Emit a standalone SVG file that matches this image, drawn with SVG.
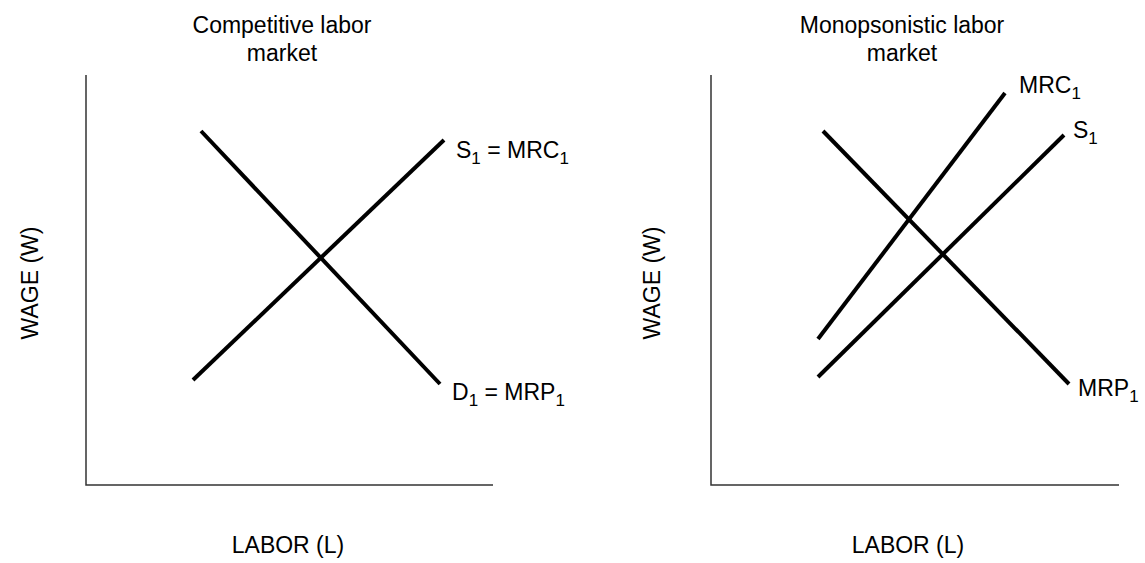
<svg xmlns="http://www.w3.org/2000/svg" width="1145" height="563" viewBox="0 0 1145 563">
<style>
text{font-family:"Liberation Sans",Arial,sans-serif;font-size:23px;fill:#000}
.axis{stroke:#333;stroke-width:1.5;fill:none}
.curve{stroke:#000;stroke-width:4;fill:none}
.sub{font-size:17px}
.t{text-anchor:middle}
</style>
<rect width="1145" height="563" fill="#fff"/>
<g id="left-panel">
<text class="t" x="282" y="33">Competitive labor</text>
<text class="t" x="282" y="61">market</text>
<path class="axis" d="M86,75 V485 H493"/>
<text class="t" transform="translate(38,283) rotate(-90)">WAGE (W)</text>
<text class="t" x="288" y="553">LABOR (L)</text>
</g>
<g id="right-panel">
<text class="t" x="902" y="33">Monopsonistic labor</text>
<text class="t" x="902" y="61">market</text>
<path class="axis" d="M711,75 V485 H1119"/>
<text class="t" transform="translate(660,283) rotate(-90)">WAGE (W)</text>
<text class="t" x="908" y="553">LABOR (L)</text>
</g>
<g id="connectors">
<line class="curve" x1="201" y1="131" x2="440" y2="384"/>
<line class="curve" x1="193" y1="380" x2="444" y2="140"/>
<line class="curve" x1="823" y1="131" x2="1069" y2="384"/>
<line class="curve" x1="818" y1="339" x2="1005" y2="93"/>
<line class="curve" x1="818" y1="377" x2="1064" y2="135"/>
</g>
<g id="labels">
<text x="456" y="158">S<tspan class="sub" dy="6">1</tspan><tspan dy="-6"> = MRC</tspan><tspan class="sub" dy="6">1</tspan></text>
<text x="452" y="400">D<tspan class="sub" dy="6">1</tspan><tspan dy="-6"> = MRP</tspan><tspan class="sub" dy="6">1</tspan></text>
<text x="1019" y="93">MRC<tspan class="sub" dy="6">1</tspan></text>
<text x="1073" y="138">S<tspan class="sub" dy="6">1</tspan></text>
<text x="1078" y="396">MRP<tspan class="sub" dy="6">1</tspan></text>
</g>
</svg>
